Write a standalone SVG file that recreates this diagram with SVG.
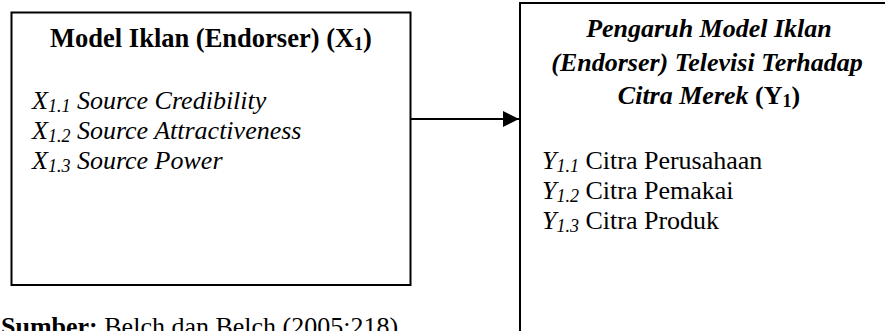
<svg xmlns="http://www.w3.org/2000/svg" width="885" height="331" viewBox="0 0 885 331">
<style>
  text { font-family: "Liberation Serif", "Times New Roman", serif; font-size: 26px; fill: #000; }
  .b { font-weight: bold; }
  .i { font-style: italic; }
  .sub { font-size: 18px; }
  .t { font-size: 26.5px; }
  .box { fill: #fff; stroke: #000; stroke-width: 2; }
  .conn { stroke: #000; stroke-width: 2; fill: none; }
</style>
<defs>
  <marker id="arrow" markerUnits="userSpaceOnUse" markerWidth="17" markerHeight="16" refX="16" refY="8" orient="auto">
    <path d="M0,0 L16,8 L0,16 Z" fill="#000"/>
  </marker>
</defs>
<rect width="885" height="331" fill="#fff"/>
<g id="node-x1">
  <rect class="box" x="11.5" y="12.5" width="399" height="272.5"/>
  <text class="b t" x="211" y="47" text-anchor="middle">Model Iklan (Endorser) (X<tspan class="sub" dy="3">1</tspan><tspan dy="-3">)</tspan></text>
  <text class="i" x="32" y="109">X<tspan class="sub" dy="3">1.1</tspan><tspan dy="-3"> Source Credibility</tspan></text>
  <text class="i" x="32" y="139">X<tspan class="sub" dy="3">1.2</tspan><tspan dy="-3"> Source Attractiveness</tspan></text>
  <text class="i" x="32" y="169">X<tspan class="sub" dy="3">1.3</tspan><tspan dy="-3"> Source Power</tspan></text>
</g>
<g id="node-y1">
  <rect class="box" x="520" y="3" width="400" height="400"/>
  <text class="b i" x="709" y="37" text-anchor="middle">Pengaruh Model Iklan</text>
  <text class="b i" x="707" y="71" text-anchor="middle">(Endorser) Televisi Terhadap</text>
  <text class="b" x="709" y="104" text-anchor="middle"><tspan class="i">Citra Merek</tspan> (Y<tspan class="sub" dy="3">1</tspan><tspan dy="-3">)</tspan></text>
  <text x="542" y="169"><tspan class="i">Y</tspan><tspan class="i sub" dy="3">1.1</tspan><tspan dy="-3"> Citra Perusahaan</tspan></text>
  <text x="542" y="199"><tspan class="i">Y</tspan><tspan class="i sub" dy="3">1.2</tspan><tspan dy="-3"> Citra Pemakai</tspan></text>
  <text x="542" y="229"><tspan class="i">Y</tspan><tspan class="i sub" dy="3">1.3</tspan><tspan dy="-3"> Citra Produk</tspan></text>
</g>
<g id="connectors">
  <line class="conn" x1="411" y1="119" x2="519" y2="119" marker-end="url(#arrow)"/>
</g>
<g id="caption">
  <text x="1" y="335"><tspan class="b">Sumber:</tspan> Belch dan Belch (2005:218)</text>
</g>
</svg>
